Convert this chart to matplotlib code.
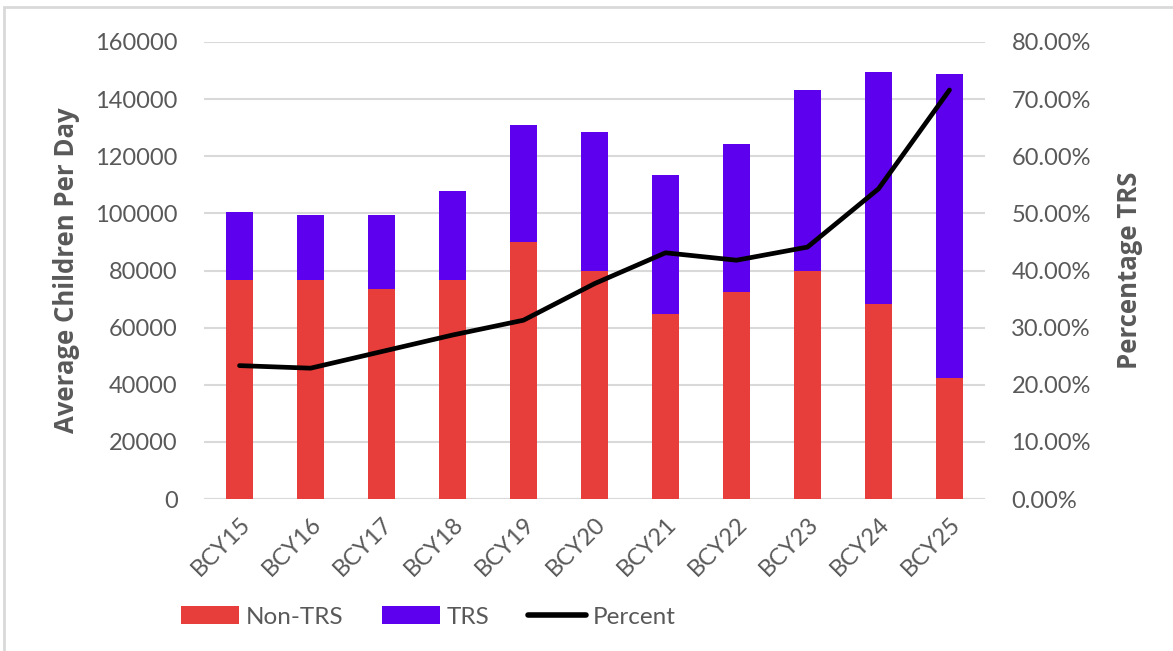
import matplotlib
matplotlib.use("Agg")
import matplotlib.pyplot as plt
import numpy as np
from matplotlib.patches import Patch, Rectangle
from matplotlib.lines import Line2D
from matplotlib.ticker import FuncFormatter

# data
years = ["BCY15", "BCY16", "BCY17", "BCY18", "BCY19", "BCY20",
         "BCY21", "BCY22", "BCY23", "BCY24", "BCY25"]
non_trs = [76750, 76750, 73500, 76700, 89900, 79900, 64600, 72600, 79900, 68400, 42500]
trs = [23600, 22700, 25900, 31200, 41100, 48500, 49000, 51600, 63200, 81100, 106400]
percent = [23.35, 22.9, 25.8, 28.7, 31.3, 37.7, 43.1, 41.8, 44.1, 54.3, 71.6]

RED = "#e83e3b"
PURPLE = "#5c00ee"
TEXT = "#595959"
GRID = "#d9d9d9"

plt.rcParams['font.family'] = ['Lato', 'DejaVu Sans']

fig = plt.figure(figsize=(11.73, 6.51), dpi=100)
ax = fig.add_axes([204 / 1173, 1 - 499 / 651, 781 / 1173, 457 / 651])
ax2 = ax.twinx()

x = np.arange(len(years))
ax.bar(x, non_trs, width=0.39, color=RED, zorder=2)
ax.bar(x, trs, width=0.39, bottom=non_trs, color=PURPLE, zorder=2)

ax.set_xlim(-0.5, len(years) - 0.5)
ax.set_ylim(0, 160000)
ax.set_yticks(np.arange(0, 160001, 20000))
ax.yaxis.grid(True, color=GRID, linewidth=1.5, zorder=0)
ax.set_axisbelow(True)
for s in ax.spines.values():
    s.set_visible(False)
for s in ax2.spines.values():
    s.set_visible(False)
ax.axhline(0, color=GRID, linewidth=1.5, zorder=1)

ax.set_xticks(x)
ax.set_xticklabels(years, rotation=45, ha='right', rotation_mode='anchor')
ax.tick_params(axis='x', length=0, pad=10, labelsize=17, labelcolor=TEXT)
ax.tick_params(axis='y', length=0, pad=19, labelsize=17, labelcolor=TEXT)
ax.set_ylabel("Average Children Per Day", fontsize=18.5, fontweight='bold', color=TEXT,
              family=['Open Sans', 'DejaVu Sans'], labelpad=11)

ax2.plot(x, percent, color="black", linewidth=3.4, solid_capstyle='round', solid_joinstyle='round', zorder=3)
ax2.set_ylim(0, 80)
ax2.set_yticks(np.arange(0, 81, 10))
ax2.yaxis.set_major_formatter(FuncFormatter(lambda v, p: f"{v:.2f}%"))
ax2.tick_params(axis='y', length=0, pad=19, labelsize=17, labelcolor=TEXT)
ax2.set_ylabel("Percentage TRS", fontsize=18.5, fontweight='bold', color=TEXT,
               family=['Open Sans', 'DejaVu Sans'], labelpad=18)

handles = [Patch(facecolor=RED, label="Non-TRS"),
           Patch(facecolor=PURPLE, label="TRS"),
           Line2D([0], [0], color="black", linewidth=4, solid_capstyle='round', label="Percent")]
leg = fig.legend(handles=handles, loc='center', bbox_to_anchor=(428 / 1173, 1 - 617 / 651),
                 ncol=3, frameon=False, fontsize=17.5, handlelength=2.4, handletextpad=0.25,
                 columnspacing=1.6)
for t in leg.get_texts():
    t.set_color(TEXT)

# light frame around the chart area
fig.patches.append(Rectangle((4 / 1173, -0.1), 1.2, 1 - 7 / 651 + 0.1, transform=fig.transFigure,
                             fill=False, edgecolor=GRID, linewidth=2))

fig.savefig("out.png", dpi=100)
